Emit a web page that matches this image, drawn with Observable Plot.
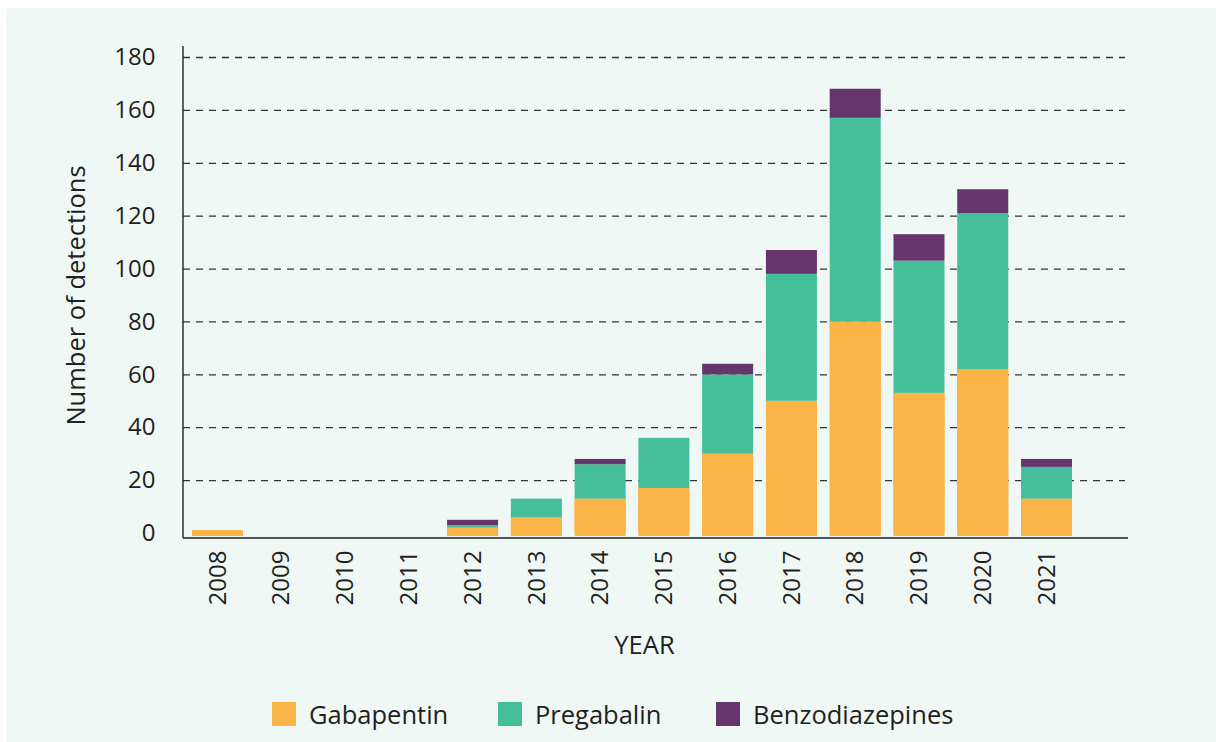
<!DOCTYPE html>
<html><head><meta charset="utf-8">
<script src="https://cdn.jsdelivr.net/npm/d3@7"></script>
<script src="https://cdn.jsdelivr.net/npm/@observablehq/plot@0.6"></script>
<style>
html,body{margin:0;padding:0;background:#fff;width:1216px;height:742px;overflow:hidden;font-family:"Open Sans",sans-serif;color:#231f20}
#panel{position:absolute;left:6px;top:8px;width:1210px;height:734px;background:#f0f8f5}
#chart{position:absolute;left:0;top:0}
#legend{position:absolute;left:0;top:690px;width:1216px;height:52px}
.item{position:absolute;top:12px;height:24px;display:flex;align-items:center;font-size:25.5px;line-height:24px;white-space:nowrap}
.sw{width:24px;height:24px;margin-right:13px;flex:none}
</style></head><body>
<div id="panel"></div><div id="chart"></div><div id="legend"></div>
<script>
const years = ["2008","2009","2010","2011","2012","2013","2014","2015","2016","2017","2018","2019","2020","2021"];
const drugs = ["Gabapentin","Pregabalin","Benzodiazepines"];
const colors = ["#fbb448","#44bf9a","#663570"];
const gabapentin =      [1,0,0,0,2,6,13,17,30,50,80,53,62,13];
const pregabalin =      [0,0,0,0,1,7,13,19,30,48,77,50,59,12];
const benzodiazepines = [0,0,0,0,2,0,2,0,4,9,11,10,9,3];
const yTicks = [0,20,40,60,80,100,120,140,160,180];
const legendLeft = [272,498,716];

const series = [gabapentin, pregabalin, benzodiazepines];
const rows = [];
drugs.forEach((d, k) => years.forEach((y, i) => rows.push({year: y, drug: d, value: series[k][i]})));
const gabRows = rows.filter(r => r.drug === "Gabapentin" && r.value > 0);

function axisLines(index, scales, values, dims) {
  const g = d3.create("svg:g").attr("stroke", "#231f20").attr("stroke-width", 1.4);
  const x0 = dims.marginLeft, x1 = dims.width - dims.marginRight + 3;
  const y0 = scales.y(0);
  g.append("line").attr("x1", x0).attr("x2", x0).attr("y1", scales.y(180) - 11).attr("y2", y0 + 5);
  g.append("line").attr("x1", x0).attr("x2", x1).attr("y1", y0 + 5).attr("y2", y0 + 5);
  return g.node();
}

const chart = Plot.plot({
  width: 1216,
  height: 690,
  marginTop: 57,
  marginBottom: 157,
  marginLeft: 183,
  marginRight: 91,
  style: {background: "transparent", fontFamily: "'Open Sans', sans-serif", fontSize: "24px", color: "#231f20"},
  x: {domain: years, range: [185.6, 1078.4], paddingInner: 0.2, paddingOuter: 0.1, round: false},
  y: {domain: [0, 180]},
  color: {domain: drugs, range: colors},
  marks: [
    Plot.ruleY(yTicks.filter(t => t > 0), {stroke: "#333", strokeWidth: 1.3, strokeDasharray: "7,6"}),
    Plot.barY(gabRows, {x: "year", y: "value", fill: "drug", insetBottom: -3}),
    Plot.barY(rows, Plot.stackY({order: drugs}, {x: "year", y: "value", fill: "drug"})),
    axisLines,
    Plot.axisY({ticks: yTicks, tickSize: 0, tickPadding: 28, label: null}),
    Plot.axisX({tickSize: 0, tickPadding: 17, tickRotate: -90, label: null}),
    Plot.text(["Number of detections"], {frameAnchor: "left", textAnchor: "middle", rotate: -90, dx: -107, fontSize: 25.5, fill: "#231f20"}),
    Plot.text(["YEAR"], {frameAnchor: "bottom", dx: -10, dy: 120, fontSize: 25.5, fill: "#231f20"})
  ]
});
document.getElementById("chart").appendChild(chart);

const legend = document.getElementById("legend");
drugs.forEach((d, k) => {
  const it = document.createElement("div");
  it.className = "item";
  it.style.left = legendLeft[k] + "px";
  const sw = document.createElement("div");
  sw.className = "sw";
  sw.style.background = colors[k];
  const tx = document.createElement("span");
  tx.textContent = d;
  it.appendChild(sw); it.appendChild(tx);
  legend.appendChild(it);
});
</script>
</body></html>
